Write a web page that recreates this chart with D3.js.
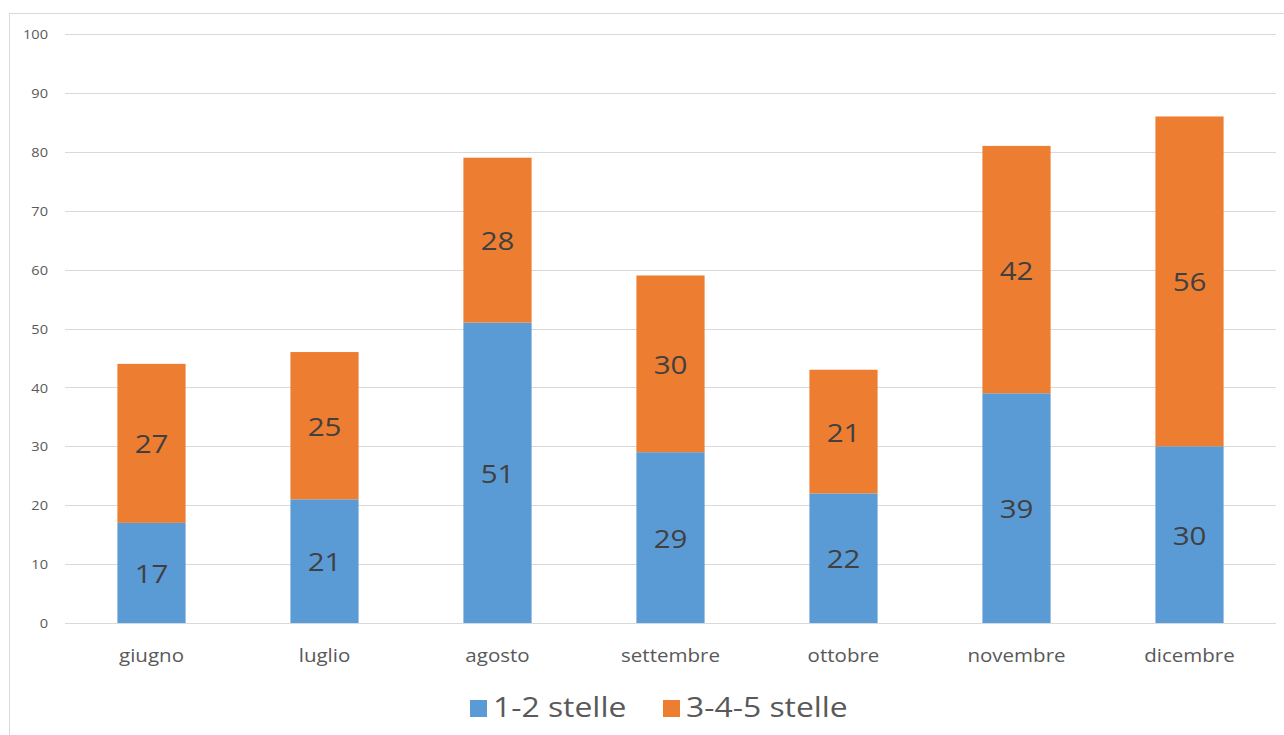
<!DOCTYPE html>
<html>
<head>
<meta charset="utf-8">
<script src="https://cdn.jsdelivr.net/npm/d3@7"></script>
<style>
  html, body { margin: 0; padding: 0; background: #fff; }
  svg { display: block; font-family: "Open Sans", "Noto Sans", sans-serif; }
</style>
</head>
<body>
<svg id="chart" width="1284" height="735"></svg>
<script>
// Monthly counts by star rating
const months = ["giugno", "luglio", "agosto", "settembre", "ottobre", "novembre", "dicembre"];
const lowStars = [17, 21, 51, 29, 22, 39, 30];   // 1-2 stelle
const highStars = [27, 25, 28, 30, 21, 42, 56];  // 3-4-5 stelle
const seriesNames = ["1-2 stelle", "3-4-5 stelle"];
const seriesColors = ["#5B9BD5", "#ED7D31"];
const yTicks = [0, 10, 20, 30, 40, 50, 60, 70, 80, 90, 100];

const FONT = "\"Open Sans\", \"Noto Sans\", sans-serif";
const svg = d3.select("#chart");

// outer chart frame (only the left and top edges fall inside the canvas)
svg.append("rect")
  .attr("x", 9.5).attr("y", 13.5)
  .attr("width", 1300).attr("height", 760)
  .attr("fill", "none").attr("stroke", "#d9d9d9").attr("stroke-width", 1);

const plot = { left: 65, right: 1276, top: 34, bottom: 623 };

const x = d3.scaleBand().domain(months).range([plot.left, plot.right]).padding(0);
const y = d3.scaleLinear().domain([0, 100]).range([plot.bottom, plot.top]);
const barW = x.bandwidth() * 0.394;

// text helper: positioned via transform with a slight horizontal stretch
function placeText(sel, px, py, sx) {
  sel.attr("transform", d => `translate(${px(d)},${py(d)}) scale(${sx},1)`)
     .attr("x", 0).attr("y", 0);
}

// gridlines
svg.append("g").selectAll("line").data(yTicks).join("line")
  .attr("x1", plot.left).attr("x2", plot.right)
  .attr("y1", d => Math.round(y(d)) + 0.5).attr("y2", d => Math.round(y(d)) + 0.5)
  .attr("stroke", "#d9d9d9").attr("stroke-width", 1);

// y axis labels (tick groups are already translated to their value)
const yAxis = d3.axisLeft(y).tickValues(yTicks).tickSize(0).tickPadding(0);
const yg = svg.append("g").attr("transform", `translate(${48},0)`).call(yAxis);
yg.select(".domain").remove();
yg.selectAll("text").attr("fill", "#595959").attr("dy", "0.36em")
  .style("font-size", "13px").style("font-family", FONT)
  .call(placeText, () => 0, () => 0, 1.12);

// stacked series
const rows = months.map((m, i) => ({ month: m, low: lowStars[i], high: highStars[i] }));
const stack = d3.stack().keys(["low", "high"])(rows);

const layers = svg.append("g").selectAll("g").data(stack).join("g")
  .attr("fill", (d, i) => seriesColors[i]);

layers.selectAll("rect").data(d => d).join("rect")
  .attr("x", d => x(d.data.month) + (x.bandwidth() - barW) / 2)
  .attr("width", barW)
  .attr("y", d => y(d[1]))
  .attr("height", d => y(d[0]) - y(d[1]));

// value labels centred in each segment
layers.selectAll("text").data(d => d).join("text")
  .attr("dy", "0.36em")
  .attr("text-anchor", "middle")
  .attr("fill", "#404040")
  .style("font-size", "25px")
  .text(d => d[1] - d[0])
  .call(placeText, d => x(d.data.month) + x.bandwidth() / 2, d => (y(d[0]) + y(d[1])) / 2 + 1, 1.18);

// category axis labels
const xAxis = d3.axisBottom(x).tickSize(0).tickPadding(0);
const xg = svg.append("g").attr("transform", `translate(0,${plot.bottom})`).call(xAxis);
xg.select(".domain").remove();
xg.selectAll("text").attr("fill", "#595959").attr("dy", 0)
  .style("font-size", "18px").style("font-family", FONT)
  .call(placeText, () => 0, () => 39, 1.14);

// legend
const legendItems = [
  { name: seriesNames[0], color: seriesColors[0], x: 470 },
  { name: seriesNames[1], color: seriesColors[1], x: 663 }
];
const lg = svg.append("g").selectAll("g").data(legendItems).join("g")
  .attr("transform", d => `translate(${d.x},${700})`);
lg.append("rect").attr("x", 0).attr("y", 0).attr("width", 17).attr("height", 17)
  .attr("fill", d => d.color);
lg.append("text")
  .attr("fill", "#595959").style("font-size", "27px")
  .text(d => d.name)
  .call(placeText, () => 23, () => 17, 1.18);
</script>
</body>
</html>
